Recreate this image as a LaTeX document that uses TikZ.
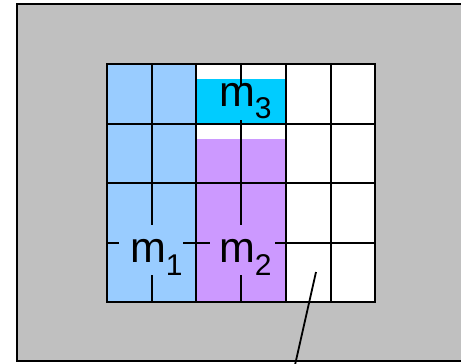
\documentclass[tikz,border=0pt]{standalone}
\usepackage{fontspec}
\setmainfont{Liberation Sans}
\definecolor{bggray}{HTML}{C0C0C0}
\definecolor{mblue}{HTML}{99CCFF}
\definecolor{mcyan}{HTML}{00CCFF}
\definecolor{mpurple}{HTML}{CC99FF}
\newcommand\mysubfont{\fontsize{30bp}{30bp}\selectfont}
\tikzset{
  gridline/.style={line width=2.3bp, draw=black, line join=miter},
  frameline/.style={line width=1.8bp, draw=black},
  labelbox/.style={inner sep=0pt, outer sep=0pt, draw=none},
  lbl/.style={inner sep=0pt, outer sep=0pt, anchor=base west, font=\fontsize{43bp}{50bp}\selectfont},
  leader/.style={line width=1.8bp, draw=black}
}
\begin{document}
\begin{tikzpicture}[x=1bp,y=-1bp]
\clip (0,0) rectangle (461,363);
% background panel
\fill[bggray] (17,4) rectangle (480,361);
\draw[frameline] (17,4) rectangle (480,361);
% grid fills
\fill[white] (107,64) rectangle (375,302);
\fill[mblue] (107,64) rectangle (196,302);
\fill[mcyan] (196,79) rectangle (286,124);
\fill[mpurple] (196,139) rectangle (286,302);
% grid lines
\foreach \x in {152,196,241,286,331} \draw[gridline] (\x,64) -- (\x,302);
\foreach \y in {124,183,243} \draw[gridline] (107,\y) -- (375,\y);
\draw[gridline] (107,64) rectangle (375,302);
% label boxes hiding the lines
\node[labelbox, fill=mblue, minimum width=64bp, minimum height=50bp] (m1box) at (151,250) {};
\node[labelbox, fill=mpurple, minimum width=65bp, minimum height=50bp] (m2box) at (242.5,250) {};
\node[labelbox, fill=mcyan, minimum width=65bp, minimum height=35bp] (m3box) at (242.5,102.5) {};
% labels
\node[lbl] (m1) at (130,262) {m\lower13bp\hbox{\mysubfont 1}};
\node[lbl] (m2) at (219,262) {m\lower13bp\hbox{\mysubfont 2}};
\node[lbl] (m3) at (219,106) {m\lower12bp\hbox{\mysubfont 3}};
% leader line
\coordinate (tip) at (316,272);
\coordinate (foot) at (295,365);
\draw[leader] (tip) -- (foot);
\end{tikzpicture}
\end{document}
